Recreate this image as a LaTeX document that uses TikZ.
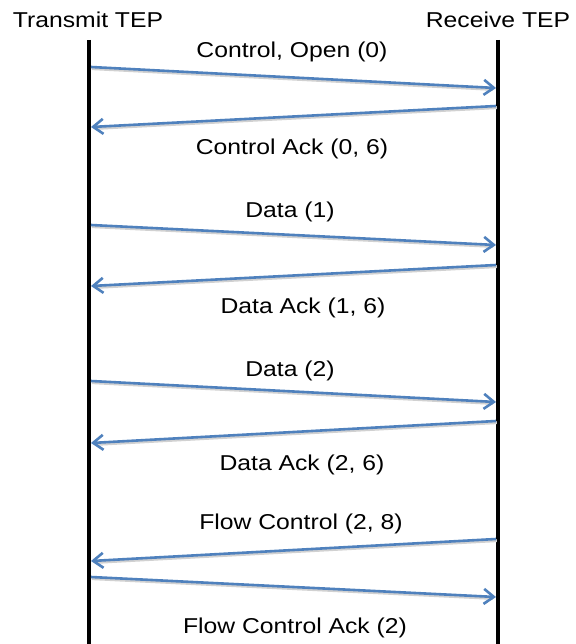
\documentclass[tikz,border=0pt]{standalone}
\usepackage{fontspec}
\setmainfont[FakeStretch=1.15]{Liberation Sans}
\usetikzlibrary{arrows.meta}
\definecolor{msgblue}{HTML}{4F81BD}
\tikzset{
  lifeline/.style={line width=4pt, black},
  msg/.style={line width=2.6pt, msgblue, -{Straight Barb[length=10pt,width=15pt,line width=2.6pt]}},
  msgshadow/.style={line width=3pt, black!18, shorten >=4pt},
  lbl/.style={anchor=base, inner sep=0pt, font=\fontsize{21.5}{25}\selectfont},
}
\begin{document}
\begin{tikzpicture}[x=1pt,y=-1pt]
\useasboundingbox[fill=white] (0,0) rectangle (575,644);

% participants
\node[lbl] (tx) at (88,27.5) {Transmit TEP};
\node[lbl] (rx) at (498,27.5) {Receive TEP};

% lifelines
\coordinate (ltop) at (89,40);
\coordinate (lbot) at (89,644);
\coordinate (rtop) at (498,40);
\coordinate (rbot) at (498,644);
\draw[lifeline] (ltop) -- (lbot);
\draw[lifeline] (rtop) -- (rbot);

% message end points on the lifelines
\coordinate (a1) at (91,67);   \coordinate (b1) at (496,88);
\coordinate (b2) at (496,106); \coordinate (a2) at (91,127);
\coordinate (a3) at (91,225);  \coordinate (b3) at (496,245);
\coordinate (b4) at (496,265); \coordinate (a4) at (91,286);
\coordinate (a5) at (91,381);  \coordinate (b5) at (496,402);
\coordinate (b6) at (496,421); \coordinate (a6) at (91,443);
\coordinate (b7) at (496,539); \coordinate (a7) at (91,561);
\coordinate (a8) at (91,577);  \coordinate (b8) at (496,597);

% soft shadows under the messages
\foreach \s/\e in {a1/b1,b2/a2,a3/b3,b4/a4,a5/b5,b6/a6,b7/a7,a8/b8}
  \draw[msgshadow] ([shift={(0.8,1.6)}]\s) -- ([shift={(0.8,1.6)}]\e);

% messages
\draw[msg] (a1) -- (b1);
\draw[msg] (b2) -- (a2);
\draw[msg] (a3) -- (b3);
\draw[msg] (b4) -- (a4);
\draw[msg] (a5) -- (b5);
\draw[msg] (b6) -- (a6);
\draw[msg] (b7) -- (a7);
\draw[msg] (a8) -- (b8);

% message labels
\node[lbl] (m1) at (292,58)  {Control, Open (0)};
\node[lbl] (m2) at (292,155) {Control Ack (0, 6)};
\node[lbl] (m3) at (290,218) {Data (1)};
\node[lbl] (m4) at (303,313) {Data Ack (1, 6)};
\node[lbl] (m5) at (290,376) {Data (2)};
\node[lbl] (m6) at (302,470) {Data Ack (2, 6)};
\node[lbl] (m7) at (301,529) {Flow Control (2, 8)};
\node[lbl] (m8) at (295,633) {Flow Control Ack (2)};
\end{tikzpicture}
\end{document}
